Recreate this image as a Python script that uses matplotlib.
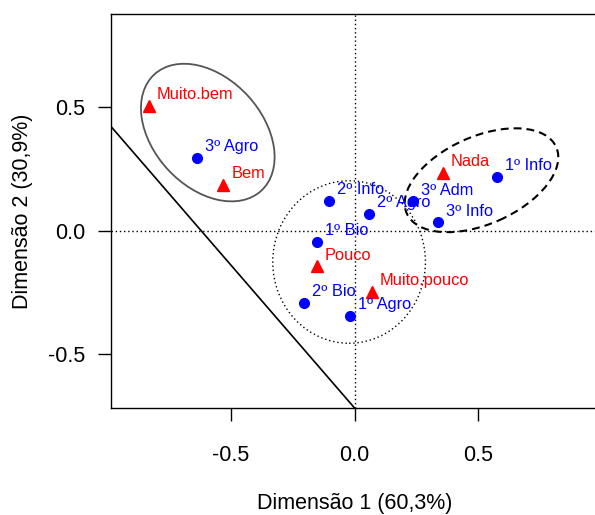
import matplotlib
matplotlib.use("Agg")
import matplotlib.pyplot as plt
from matplotlib.patches import Ellipse

plt.rcParams['font.family'] = ['Liberation Sans', 'DejaVu Sans']

# Row points (classes)
row_labels = ["3º Agro", "2º Info", "2º Agro", "3º Adm", "1º Info",
              "3º Info", "1º Bio", "2º Bio", "1º Agro"]
row_x = [-0.637, -0.105, 0.060, 0.236, 0.577, 0.337, -0.150, -0.206, -0.020]
row_y = [0.297, 0.120, 0.068, 0.119, 0.219, 0.034, -0.043, -0.290, -0.346]

# Column points (answers)
col_labels = ["Muito.bem", "Bem", "Nada", "Pouco", "Muito.pouco"]
col_x = [-0.831, -0.530, 0.356, -0.153, 0.070]
col_y = [0.507, 0.186, 0.234, -0.144, -0.246]

# Group ellipses: centre x, centre y, width, height, angle
groups = [
    (-0.593, 0.398, 0.639, 0.440, -47.5),
    (-0.022, -0.126, 0.617, 0.658, 0.0),
    (0.513, 0.205, 0.661, 0.354, 24.0),
]
group_styles = [
    dict(edgecolor='#555555', linestyle='-', linewidth=1.3),
    dict(edgecolor='black', linestyle=(0, (1, 2)), linewidth=1.0),
    dict(edgecolor='black', linestyle=(0, (3.8, 2.4)), linewidth=1.5),
]

# Separation line
line_intercept = -0.717
line_slope = -1.158

fig = plt.figure(figsize=(5.95, 5.15), dpi=100)
ax = fig.add_axes([0.1866, 0.2078, 0.8202, 0.765])
ax.set_xlim(-0.984, 0.988)
ax.set_ylim(-0.717, 0.878)

ax.axhline(0, color='black', linestyle=(0, (1, 2)), linewidth=1.0)
ax.axvline(0, color='black', linestyle=(0, (1, 2)), linewidth=1.0)
ax.axline((0, line_intercept), slope=line_slope, color='black', linewidth=1.2)

for (cx, cy, w, h, ang), st in zip(groups, group_styles):
    ax.add_patch(Ellipse((cx, cy), w, h, angle=ang, facecolor='none', **st))

ax.plot(row_x, row_y, 'o', color='#0000FF', markersize=7, linestyle='none')
ax.plot(col_x, col_y, '^', color='#FF0000', markersize=8.5, linestyle='none')

for lab, x, y in zip(row_labels, row_x, row_y):
    ax.annotate(lab, (x, y), xytext=(5.8, 5.0), textcoords='offset points',
                ha='left', va='baseline', color='#0000FF', fontsize=11.8)
for lab, x, y in zip(col_labels, col_x, col_y):
    ax.annotate(lab, (x, y), xytext=(5.8, 5.0), textcoords='offset points',
                ha='left', va='baseline', color='#FF0000', fontsize=11.8)

ax.set_xticks([-0.5, 0.0, 0.5])
ax.set_yticks([-0.5, 0.0, 0.5])
ax.set_xticklabels(['-0.5', '0.0', '0.5'])
ax.set_yticklabels(['-0.5', '0.0', '0.5'])
ax.tick_params(axis='both', direction='out', length=9.4, width=1.0,
               labelsize=15.5, color='black')
ax.tick_params(axis='x', pad=17)
ax.tick_params(axis='y', pad=9)
for sp in ax.spines.values():
    sp.set_linewidth(1.0)

ax.set_xlabel('Dimensão 1 (60,3%)', fontsize=15.5, labelpad=20)
ax.set_ylabel('Dimensão 2 (30,9%)', fontsize=15.5, labelpad=11)

fig.savefig('out.png', dpi=100)
